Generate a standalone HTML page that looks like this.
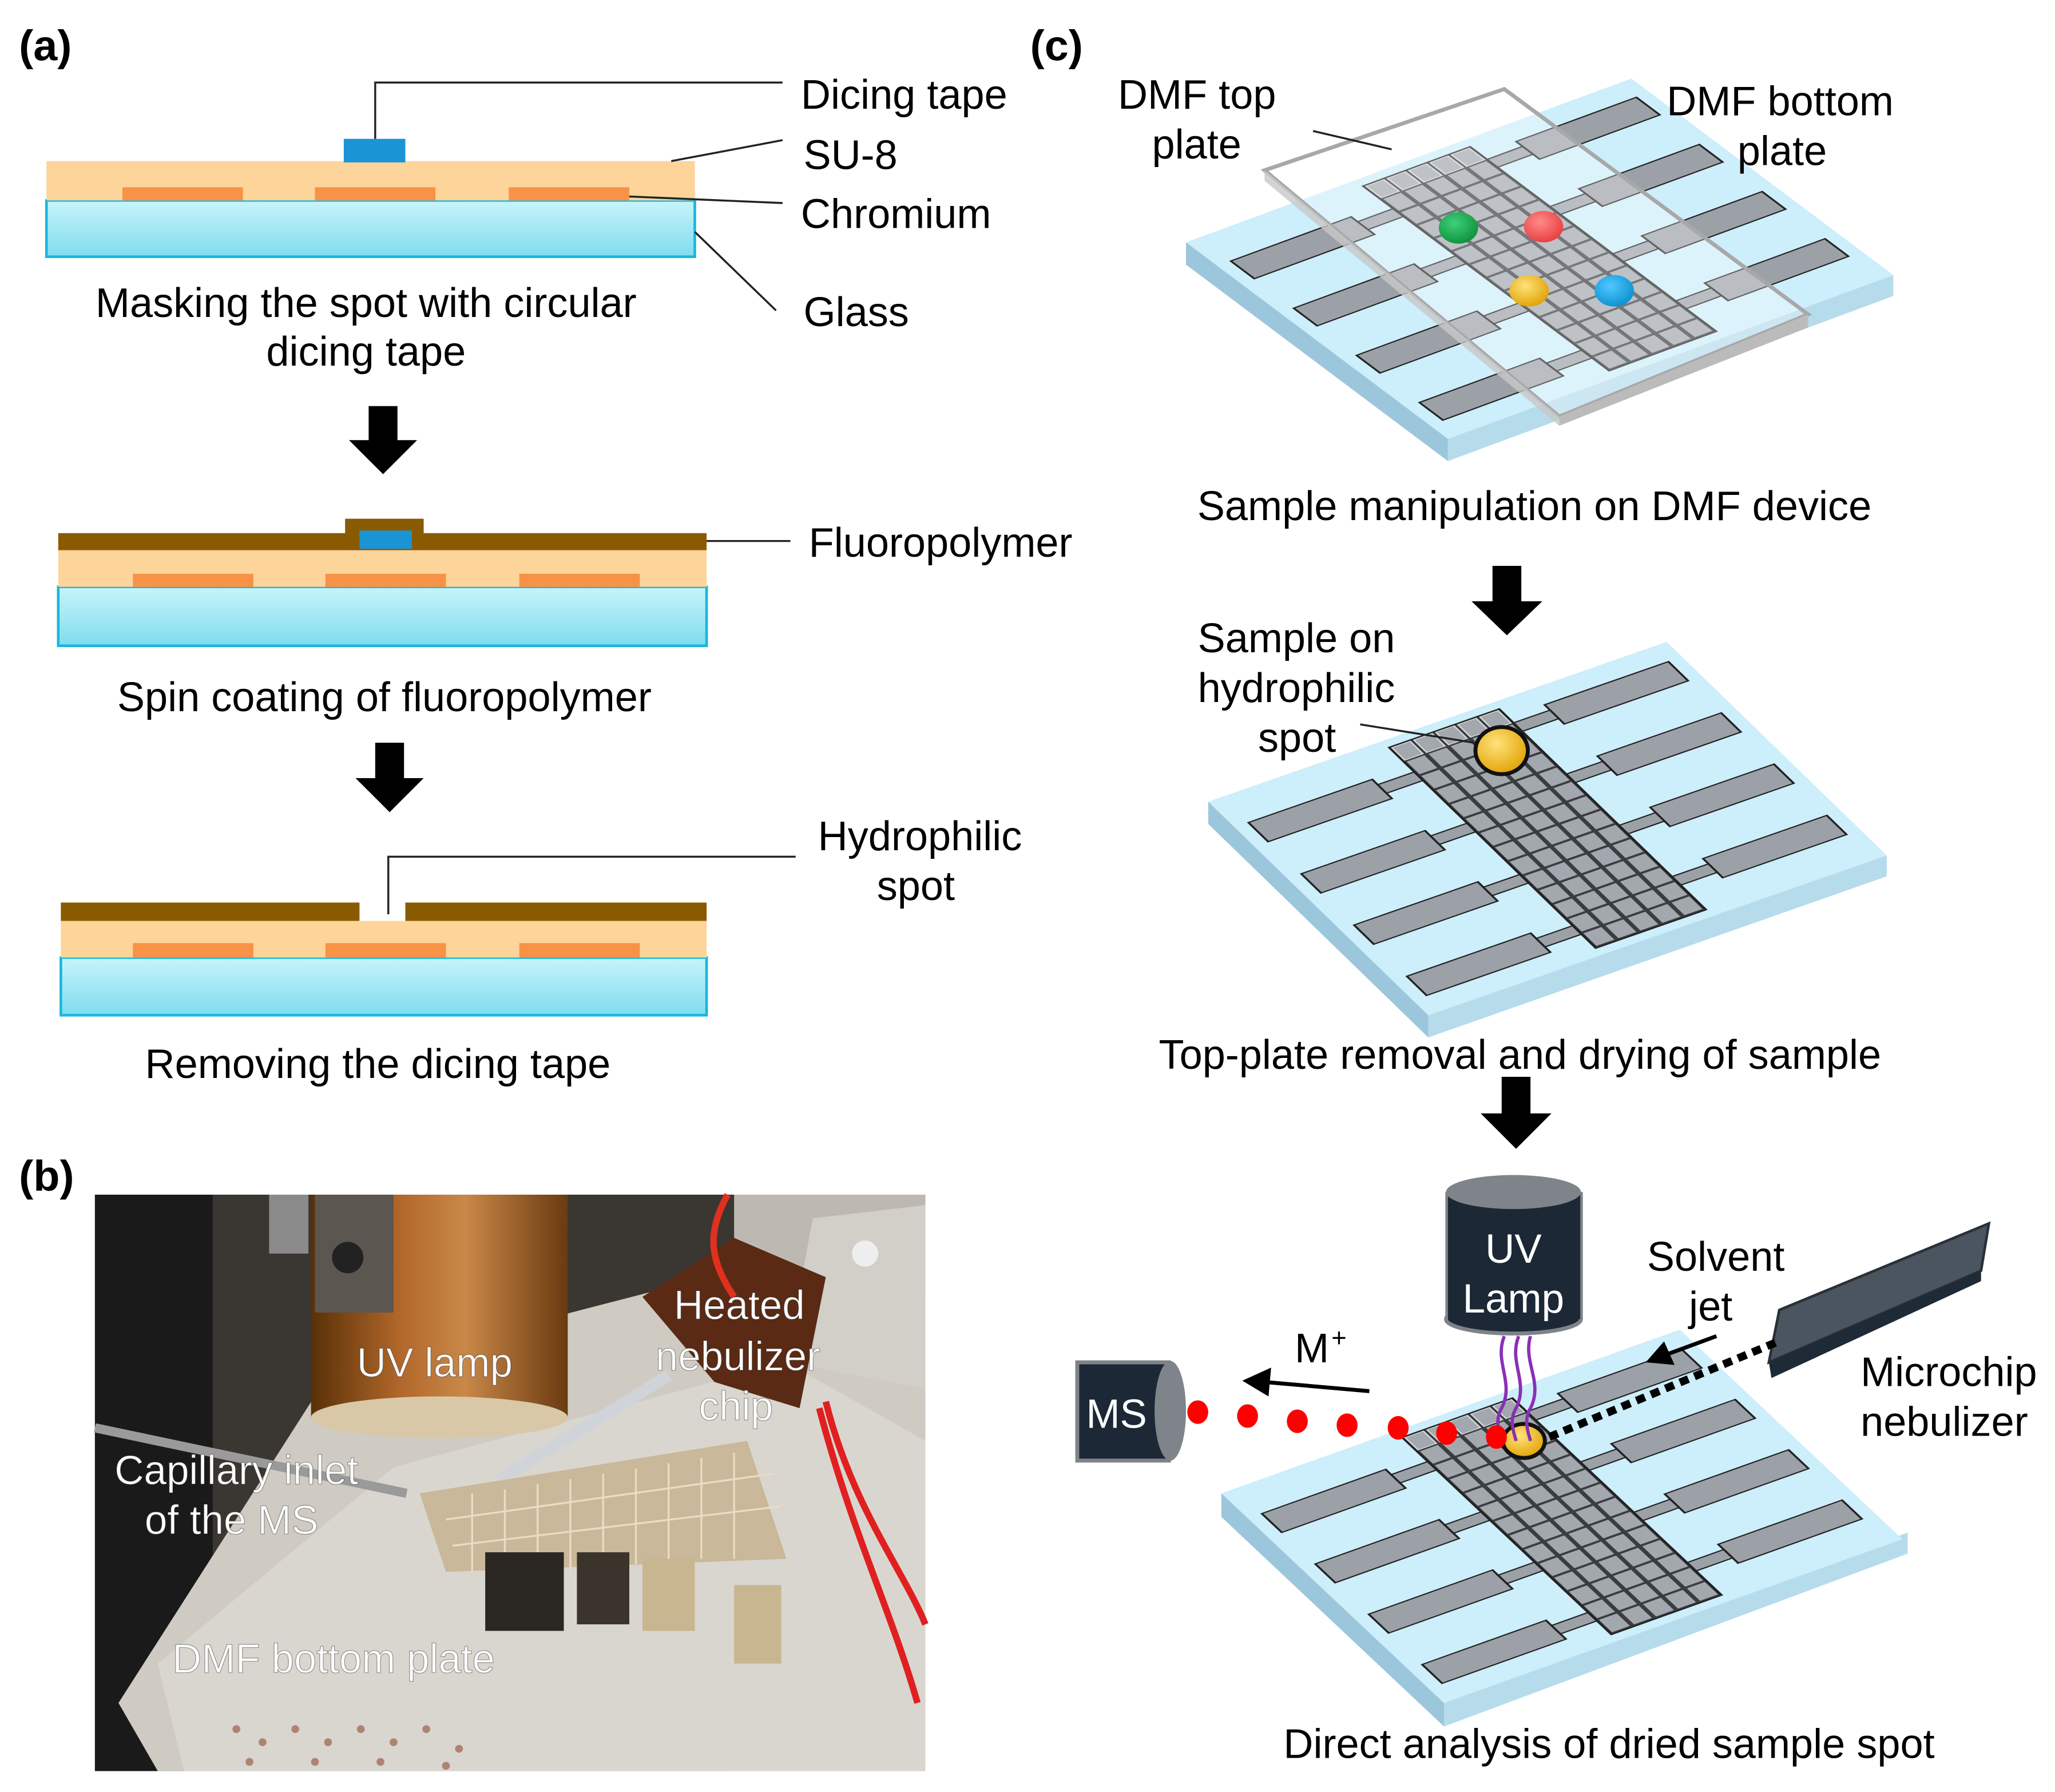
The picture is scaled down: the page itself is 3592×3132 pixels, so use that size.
<!DOCTYPE html>
<html><head><meta charset="utf-8"><style>
html,body{margin:0;padding:0;background:#fff}
svg{display:block}
text{font-family:"Liberation Sans",Arial,sans-serif}
</style></head><body>
<svg width="3592" height="3132" viewBox="0 0 1568 1368" xmlns="http://www.w3.org/2000/svg">
<defs>
<linearGradient id="gl" x1="0" y1="0" x2="0" y2="1"><stop offset="0" stop-color="#c8f4fb"/><stop offset="1" stop-color="#7fdcef"/></linearGradient>
<linearGradient id="cu" x1="0" y1="0" x2="1" y2="0"><stop offset="0" stop-color="#5a3008"/><stop offset="0.35" stop-color="#b2682a"/><stop offset="0.6" stop-color="#c98848"/><stop offset="1" stop-color="#6a3a10"/></linearGradient>
<radialGradient id="drY" cx="0.4" cy="0.35" r="0.7"><stop offset="0" stop-color="#ffe27a"/><stop offset="1" stop-color="#e0a000"/></radialGradient>
<radialGradient id="drG" cx="0.4" cy="0.35" r="0.7"><stop offset="0" stop-color="#3fd07a"/><stop offset="1" stop-color="#0d8f3c"/></radialGradient>
<radialGradient id="drR" cx="0.4" cy="0.35" r="0.7"><stop offset="0" stop-color="#ff8a8a"/><stop offset="1" stop-color="#e83c3c"/></radialGradient>
<radialGradient id="drB" cx="0.4" cy="0.35" r="0.7"><stop offset="0" stop-color="#50c8ff"/><stop offset="1" stop-color="#0a8fd0"/></radialGradient>
<g id="dev">
 <rect x="0" y="0" width="100" height="100" fill="#cdeefb"/>
 <g fill="#9ca1a8" stroke="#222" stroke-width="0.45">
  <rect x="3" y="12" width="27" height="9"/>
  <rect x="3" y="36" width="27" height="9"/>
  <rect x="3" y="60" width="27" height="9"/>
  <rect x="3" y="84" width="27" height="9"/>
  <rect x="70" y="7" width="27" height="9"/>
  <rect x="70" y="31" width="27" height="9"/>
  <rect x="70" y="55" width="27" height="9"/>
  <rect x="70" y="79" width="27" height="9"/>
  <rect x="30" y="14.5" width="8" height="4"/>
  <rect x="30" y="38.5" width="8" height="4"/>
  <rect x="30" y="62.5" width="8" height="4"/>
  <rect x="30" y="86.5" width="8" height="4"/>
  <rect x="62" y="9.5" width="8" height="4"/>
  <rect x="62" y="33.5" width="8" height="4"/>
  <rect x="62" y="57.5" width="8" height="4"/>
  <rect x="62" y="81.5" width="8" height="4"/>
 </g>
 <rect x="38" y="3" width="24" height="94" fill="#3a3d40"/>
 <g fill="#a3a8ae" stroke="#d8dbde" stroke-width="0.3">
  <rect x="38.4" y="3.4" width="4" height="5.9"/><rect x="43.2" y="3.4" width="4" height="5.9"/><rect x="48" y="3.4" width="4" height="5.9"/><rect x="52.8" y="3.4" width="4" height="5.9"/><rect x="57.6" y="3.4" width="4" height="5.9"/>
 </g>
 <g fill="none" stroke="#a3a8ae" stroke-width="3.9" stroke-dasharray="5.9 0.8">
  <path d="M40.4 10V97M45.2 10V97M50 10V97M54.8 10V97M59.6 10V97"/>
 </g>
 <rect x="38" y="3" width="24" height="94" fill="none" stroke="#222" stroke-width="0.5"/>
</g>
</defs>

<!-- ===== Panel (a) ===== -->
<text x="14" y="46" font-size="33" font-weight="bold">(a)</text>
<rect x="35" y="153" width="495" height="43" fill="url(#gl)" stroke="#19b6dc" stroke-width="2"/>
<rect x="35" y="123" width="495" height="30" fill="#fdd49a"/>
<g fill="#f79246"><rect x="93" y="143" width="92" height="10"/><rect x="240" y="143" width="92" height="10"/><rect x="388" y="143" width="92" height="10"/></g>
<rect x="262" y="106" width="47" height="18" fill="#1a94d4"/>
<g stroke="#222" stroke-width="1.5" fill="none">
<path d="M286 106V63H597"/><path d="M512 123L597 107"/><path d="M480 150L597 155"/><path d="M530 177L592 237"/>
</g>
<g font-size="31.5">
<text x="611" y="83">Dicing tape</text>
<text x="613" y="129">SU-8</text>
<text x="611" y="174">Chromium</text>
<text x="613" y="249">Glass</text>
<text x="279" y="242" text-anchor="middle">Masking the spot with circular</text>
<text x="279" y="279" text-anchor="middle">dicing tape</text>
</g>
<path d="M281 310H303V336H318L292 362L266 336H281Z" fill="#000"/>
<rect x="44" y="448" width="495" height="45" fill="url(#gl)" stroke="#19b6dc" stroke-width="2"/>
<rect x="44" y="420" width="495" height="28" fill="#fdd49a"/>
<g fill="#f79246"><rect x="101" y="438" width="92" height="10"/><rect x="248" y="438" width="92" height="10"/><rect x="396" y="438" width="92" height="10"/></g>
<rect x="44" y="407" width="495" height="13" fill="#8a5a00"/>
<rect x="263" y="396" width="60" height="24" fill="#8a5a00"/>
<rect x="274" y="405" width="40" height="14" fill="#1a94d4"/>
<path d="M539 413H603" stroke="#222" stroke-width="1.5"/>
<text x="617" y="425" font-size="31.5">Fluoropolymer</text>
<text x="293" y="543" font-size="31.5" text-anchor="middle">Spin coating of fluoropolymer</text>
<path d="M286 567H308V594H323L297 620L271 594H286Z" fill="#000"/>
<rect x="46" y="731" width="493" height="44" fill="url(#gl)" stroke="#19b6dc" stroke-width="2"/>
<rect x="46" y="703" width="493" height="28" fill="#fdd49a"/>
<g fill="#f79246"><rect x="101" y="720" width="92" height="11"/><rect x="248" y="720" width="92" height="11"/><rect x="396" y="720" width="92" height="11"/></g>
<rect x="46" y="689" width="228" height="14" fill="#8a5a00"/>
<rect x="309" y="689" width="230" height="14" fill="#8a5a00"/>
<path d="M296 698V654H607" stroke="#222" stroke-width="1.5" fill="none"/>
<text x="624" y="649" font-size="31.5">Hydrophilic</text>
<text x="669" y="687" font-size="31.5">spot</text>
<text x="288" y="823" font-size="31.5" text-anchor="middle">Removing the dicing tape</text>

<!-- ===== Panel (b) photo ===== -->
<text x="14" y="909" font-size="33" font-weight="bold">(b)</text>
<g>
<rect x="72" y="912" width="634" height="440" fill="#3a3632"/>
<rect x="72" y="912" width="90" height="440" fill="#1a1a1a"/>
<path d="M560 912H706V1352H560Z" fill="#bdb9b2"/>
<path d="M250 1050L540 975L706 990V1352H120L90 1300Z" fill="#cfcbc3"/>
<path d="M300 1120L600 1040L706 1100V1352H140L120 1270Z" fill="#d9d6d0"/>
<path d="M620 930L706 920V1060L600 1040Z" fill="#d2cfc8"/>
<rect x="237" y="912" width="196" height="170" fill="url(#cu)"/>
<ellipse cx="335" cy="1082" rx="98" ry="16" fill="#d8c8a8"/>
<rect x="205" y="912" width="30" height="45" fill="#8a8a8a"/>
<rect x="240" y="912" width="60" height="90" fill="#5c5650"/>
<circle cx="265" cy="960" r="12" fill="#222"/>
<path d="M72 1090L310 1140" stroke="#9a9a9a" stroke-width="7"/>
<path d="M380 1130L510 1050" stroke="#d0d4d8" stroke-width="9"/>
<path d="M490 990L560 945L630 975L610 1075L545 1055Z" fill="#5a2a15"/>
<path d="M555 912C540 940 540 960 560 990" stroke="#e0301e" stroke-width="5" fill="none"/>
<path d="M630 1070C650 1150 690 1200 706 1240M625 1075C650 1170 680 1230 700 1300" stroke="#e02020" stroke-width="5" fill="none"/>
<circle cx="660" cy="957" r="10" fill="#eeeeee"/>
<path d="M320 1140L570 1100L600 1190L340 1200Z" fill="#c9b899"/>
<g stroke="#e8dcc4" stroke-width="1.5">
<path d="M340 1160L590 1125M345 1180L595 1150"/>
<path d="M360 1140V1200M385 1137V1200M410 1133V1200M435 1129V1198M460 1125V1196M485 1121V1194M510 1117V1192M535 1113V1190M560 1109V1190"/>
</g>
<rect x="370" y="1185" width="60" height="60" fill="#2a2622"/>
<rect x="440" y="1185" width="40" height="55" fill="#3a342c"/>
<rect x="490" y="1190" width="40" height="55" fill="#c8b690"/>
<rect x="560" y="1210" width="36" height="60" fill="#c8b690"/>
<g fill="#a0604a" opacity="0.7">
<circle cx="180" cy="1320" r="3"/><circle cx="200" cy="1330" r="3"/><circle cx="225" cy="1320" r="3"/><circle cx="250" cy="1330" r="3"/><circle cx="275" cy="1320" r="3"/><circle cx="300" cy="1330" r="3"/><circle cx="325" cy="1320" r="3"/><circle cx="350" cy="1335" r="3"/><circle cx="190" cy="1345" r="3"/><circle cx="240" cy="1345" r="3"/><circle cx="290" cy="1345" r="3"/><circle cx="340" cy="1348" r="3"/>
</g>
<g fill="#fff" font-size="31" stroke="#000" stroke-opacity="0.35" stroke-width="0.6">
<text x="272" y="1051">UV lamp</text>
<text x="514" y="1007">Heated</text>
<text x="500" y="1046">nebulizer</text>
<text x="533" y="1084">chip</text>
<text x="87" y="1133">Capillary inlet</text>
<text x="110" y="1171">of the  MS</text>
<text x="131" y="1277">DMF bottom plate</text>
</g>
</g>

<!-- ===== Panel (c) ===== -->
<text x="786" y="46" font-size="33" font-weight="bold">(c)</text>
<path d="M905 185L1105 335L1105 352L905 202Z" fill="#9cc6dc"/>
<path d="M1105 335L1445 210L1445 226L1105 352Z" fill="#b6dcec"/>
<use href="#dev" transform="matrix(3.4,-1.25,2,1.5,905,185)"/>
<path d="M965 130L1148 68L1380 240L1190 318Z" fill="#ffffff" fill-opacity="0.3" stroke="#a8a8a8" stroke-width="3"/>
<path d="M1190 318L1380 240L1380 250L1190 325Z" fill="#bbbbbb"/>
<path d="M965 130L1190 318L1190 325L965 138Z" fill="#c8c8c8" opacity="0.8"/>
<ellipse cx="1113" cy="174" rx="15" ry="12" fill="url(#drG)"/>
<ellipse cx="1178" cy="173" rx="15" ry="12" fill="url(#drR)"/>
<ellipse cx="1167" cy="222" rx="15" ry="12" fill="url(#drY)"/>
<ellipse cx="1232" cy="222" rx="15" ry="12" fill="url(#drB)"/>
<path d="M1002 100L1062 114" stroke="#222" stroke-width="1.5"/>
<g font-size="31.5">
<text x="853" y="83">DMF top</text>
<text x="879" y="121">plate</text>
<text x="1272" y="88">DMF bottom</text>
<text x="1326" y="126">plate</text>
<text x="1171" y="397" text-anchor="middle">Sample manipulation on DMF device</text>
</g>
<path d="M1139 432H1161V459H1177L1150 485L1123 459H1139Z" fill="#000"/>
<path d="M922 612L1090 775L1090 792L922 629Z" fill="#9cc6dc"/>
<path d="M1090 775L1440 653L1440 669L1090 792Z" fill="#b6dcec"/>
<use href="#dev" transform="matrix(3.5,-1.22,1.68,1.63,922,612)"/>
<ellipse cx="1146" cy="573" rx="20" ry="18" fill="url(#drY)" stroke="#111" stroke-width="3"/>
<path d="M1038 553L1125 567" stroke="#222" stroke-width="1.5"/>
<g font-size="31.5">
<text x="914" y="498">Sample on</text>
<text x="914" y="536">hydrophilic</text>
<text x="960" y="574">spot</text>
<text x="1160" y="816" text-anchor="middle">Top-plate removal and drying of sample</text>
</g>
<path d="M1146 822H1168V850H1184L1157 877L1130 850H1146Z" fill="#000"/>
<path d="M932 1140L1102 1300L1102 1318L932 1158Z" fill="#9cc6dc"/>
<path d="M1102 1300L1456 1170L1456 1186L1102 1318Z" fill="#b6dcec"/>
<use href="#dev" transform="matrix(3.5,-1.25,1.7,1.6,932,1140)"/>
<path d="M1350 1040L1358 1000L1518 934L1512 970Z" fill="#4a5560" stroke="#2a3038" stroke-width="2"/>
<path d="M1350 1040L1512 970L1512 978L1352 1052Z" fill="#1e2a36"/>
<path d="M1355 1025L1180 1098" stroke="#000" stroke-width="6" stroke-dasharray="7,5"/>
<ellipse cx="1163" cy="1100" rx="16" ry="13" fill="url(#drY)" stroke="#111" stroke-width="3"/>
<rect x="1104" y="910" width="103" height="97" fill="#1c2835"/>
<ellipse cx="1155" cy="1007" rx="51.5" ry="11" fill="#1c2835" stroke="#7e8388" stroke-width="3"/>
<rect x="1104" y="910" width="103" height="97" fill="#1c2835"/>
<path d="M1104 910V1007M1207 910V1007" stroke="#7e8388" stroke-width="2"/>
<ellipse cx="1155" cy="910" rx="51.5" ry="13" fill="#7f848a"/>
<text x="1155" y="964" font-size="31" fill="#fff" text-anchor="middle">UV</text>
<text x="1155" y="1002" font-size="31" fill="#fff" text-anchor="middle">Lamp</text>
<g stroke="#8a2fb5" stroke-width="2.5" fill="none">
<path d="M1148 1020C1140 1040 1156 1055 1146 1075C1140 1085 1145 1095 1146 1100"/>
<path d="M1159 1020C1151 1040 1167 1055 1157 1075C1151 1085 1156 1095 1157 1100"/>
<path d="M1168 1020C1162 1040 1178 1055 1168 1075C1162 1085 1167 1095 1168 1100"/>
</g>
<rect x="822" y="1040" width="70" height="75" fill="#1c2835" stroke="#7e8388" stroke-width="3"/>
<ellipse cx="893" cy="1077" rx="12" ry="38" fill="#7f848a"/>
<text x="852" y="1090" font-size="31" fill="#fff" text-anchor="middle">MS</text>
<g fill="#f00">
<ellipse cx="914" cy="1078" rx="8" ry="9"/><ellipse cx="952" cy="1081" rx="8" ry="9"/><ellipse cx="990" cy="1085" rx="8" ry="9"/><ellipse cx="1028" cy="1088" rx="8" ry="9"/><ellipse cx="1067" cy="1090" rx="8" ry="9"/><ellipse cx="1104" cy="1094" rx="8" ry="9"/><ellipse cx="1142" cy="1097" rx="8" ry="9"/>
</g>
<path d="M1045 1062L965 1055" stroke="#000" stroke-width="3"/>
<path d="M948 1054L970 1044L968 1066Z" fill="#000"/>
<path d="M1310 1020L1272 1034" stroke="#000" stroke-width="3"/>
<path d="M1256 1040L1270 1024L1278 1042Z" fill="#000"/>
<g font-size="31.5">
<text x="988" y="1040">M</text><text x="1016" y="1028" font-size="20">+</text>
<text x="1257" y="970">Solvent</text>
<text x="1289" y="1008">jet</text>
<text x="1420" y="1058">Microchip</text>
<text x="1420" y="1096">nebulizer</text>
<text x="1228" y="1342" text-anchor="middle">Direct analysis of dried sample spot</text>
</g>
</svg>
</body></html>
